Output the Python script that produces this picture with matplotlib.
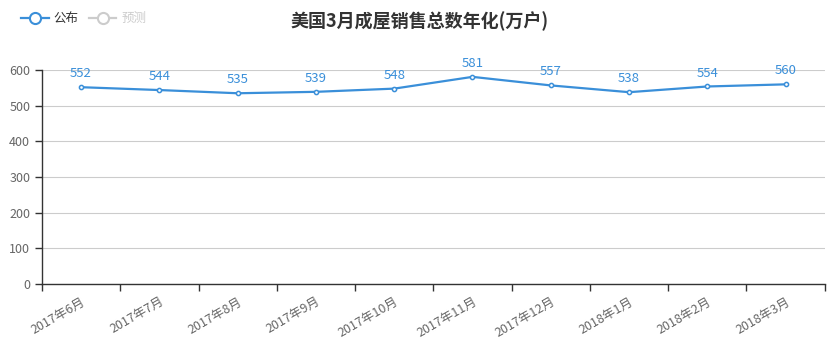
import numpy as np
import matplotlib
matplotlib.use('Agg')
import matplotlib.pyplot as plt
from matplotlib.lines import Line2D

plt.rcParams['font.family'] = ['Noto Sans CJK SC', 'DejaVu Sans']

# data
months = ['2017年6月', '2017年7月', '2017年8月', '2017年9月', '2017年10月',
          '2017年11月', '2017年12月', '2018年1月', '2018年2月', '2018年3月']
published = [552, 544, 535, 539, 548, 581, 557, 538, 554, 560]
yticks = [0, 100, 200, 300, 400, 500, 600]

line_color = '#3a8fd9'

fig = plt.figure(figsize=(8.39, 3.54), dpi=100)
ax = fig.add_axes([0.050, 0.198, 0.933, 0.604])

x = np.arange(len(months))
ax.plot(x, published, color=line_color, lw=1.6, marker='o', ms=3,
        mfc='white', mec=line_color, mew=1.1, zorder=3)
for xi, v in zip(x, published):
    ax.annotate(str(v), (xi, v), xytext=(0, 5), textcoords='offset points',
                ha='center', va='bottom', color=line_color, fontsize=9.5)

ax.set_xlim(-0.5, len(months) - 0.5)
ax.set_ylim(0, 600)
ax.set_yticks(yticks)
ax.tick_params(axis='y', colors='#333333', labelcolor='#666666', labelsize=9,
               length=5, width=1)
ax.yaxis.grid(True, color='#cccccc', lw=0.8)
ax.set_axisbelow(True)

# ticks on category boundaries, labels centered on categories
ax.set_xticks(np.arange(-0.5, len(months), 1))
ax.set_xticklabels([])
ax.set_xticks(x, minor=True)
ax.set_xticklabels(months, minor=True, rotation=30, ha='right',
                   rotation_mode='anchor', color='#666666', fontsize=9)
ax.tick_params(axis='x', which='major', length=5, width=1, color='#333333')
ax.tick_params(axis='x', which='minor', length=0, pad=8)

for s in ['top', 'right']:
    ax.spines[s].set_visible(False)
for s in ['left', 'bottom']:
    ax.spines[s].set_color('#333333')
    ax.spines[s].set_linewidth(1)

fig.text(0.5, 0.94, '美国3月成屋销售总数年化(万户)', ha='center', va='center',
         fontsize=13, fontweight='bold', color='#333333')

handles = [
    Line2D([], [], color=line_color, lw=1.6, marker='o', ms=8, mfc='white',
           mec=line_color, mew=1.5),
    Line2D([], [], color='#cccccc', lw=1.6, marker='o', ms=8, mfc='white',
           mec='#cccccc', mew=1.5),
]
leg = fig.legend(handles, ['公布', '预测'], loc='center left',
                 bbox_to_anchor=(0.012, 0.948), ncol=2, frameon=False,
                 fontsize=9, handlelength=2.2, handletextpad=0.4,
                 columnspacing=0.8)
leg.get_texts()[0].set_color('#333333')
leg.get_texts()[1].set_color('#cccccc')

fig.savefig('out.png', dpi=100)
